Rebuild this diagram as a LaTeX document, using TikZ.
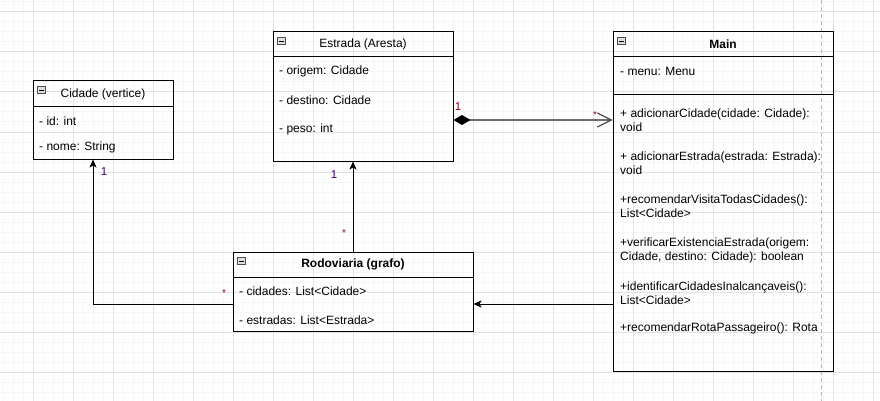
\documentclass[tikz,border=0pt]{standalone}
\usepackage{fontspec}
\setmainfont{Liberation Sans}
\usetikzlibrary{arrows.meta,positioning}
\definecolor{gridminor}{RGB}{246,246,246}
\definecolor{gridmajor}{RGB}{226,226,226}
\definecolor{multred}{RGB}{150,0,20}
\definecolor{multviolet}{RGB}{60,0,110}
\definecolor{compgray}{RGB}{110,110,110}

\begin{document}
\begin{tikzpicture}[x=1pt,y=-1pt,
    classbox/.style={draw,line width=1pt,inner sep=0pt},
    hdr/.style={draw,line width=1pt,inner sep=0pt,minimum height=26pt,font=\fontsize{12}{14}\selectfont},
    fld/.style={anchor=west,inner sep=0pt,align=left,font=\fontsize{12}{14}\selectfont},
    mult/.style={inner sep=0pt,font=\fontsize{11.5}{13}\selectfont},
    assoc/.style={line width=1pt,-{Stealth[length=8pt,width=7pt,inset=2pt]}},
    comp/.style={line width=1.2pt,draw=compgray,
      {Diamond[length=17pt,width=10pt,fill=black,color=black]}-{Straight Barb[length=14pt,width=14pt,line width=1.1pt,color=gray!50!black]}}]
  \useasboundingbox (0,0) rectangle (880,401);
  \fill[white] (0,0) rectangle (880,401);
  \foreach \x in {3,13,...,873}
    \draw[gridminor,line width=1pt] (\x,0) -- (\x,401);
  \foreach \y in {2,12,...,392}
    \draw[gridminor,line width=1pt] (0,\y) -- (880,\y);
  \foreach \x in {33,73,...,873}
    \draw[gridmajor,line width=1pt] (\x,0) -- (\x,401);
  \foreach \y in {12,52,...,372}
    \draw[gridmajor,line width=1pt] (0,\y) -- (880,\y);
  \draw[gray!55,line width=1pt,dash pattern=on 4pt off 3pt] (821,0) -- (821,401);

  \node[classbox,minimum width=140pt,minimum height=78pt] (cidade) at (103,120) {};
  \node[hdr,minimum width=140pt,anchor=north] (cidadet) at (cidade.north) {Cidade (vertice)};
  \node[fld] (cidadeid) at (39,121) {- id: int};
  \node[fld] (cidadenome) at (39,147) {- nome: String};

  \node[classbox,minimum width=180pt,minimum height=129pt] (estrada) at (363,96.5) {};
  \node[hdr,minimum width=180pt,minimum height=25pt,anchor=north] (estradat) at (estrada.north) {Estrada (Aresta)};
  \node[fld] (estradaorig) at (279,71) {- origem: Cidade};
  \node[fld] (estradadest) at (279,100) {- destino: Cidade};
  \node[fld] (estradapeso) at (279,129) {- peso: int};

  \node[classbox,minimum width=220pt,minimum height=339pt] (main) at (723,201.5) {};
  \node[hdr,minimum width=220pt,minimum height=25pt,anchor=north,font=\fontsize{12}{14}\selectfont\bfseries] (maint) at (main.north) {Main};
  \draw[line width=1pt] (main.west |- 0,95) -- (main.east |- 0,95);
  \node[fld] (mainmenu) at (620,71) {- menu: Menu};
  \node[fld] (mainm1) at (620,120) {+ adicionarCidade(cidade: Cidade):\\void};
  \node[fld] (mainm2) at (620,163) {+ adicionarEstrada(estrada: Estrada):\\void};
  \node[fld] (mainm3) at (620,206.5) {+recomendarVisitaTodasCidades():\\List<Cidade>};
  \node[fld] (mainm4) at (620,250) {+verificarExistenciaEstrada(origem:\\Cidade, destino: Cidade): boolean};
  \node[fld] (mainm5) at (620,293) {+identificarCidadesInalcançaveis():\\List<Cidade>};
  \node[fld] (mainm6) at (620,328) {+recomendarRotaPassageiro(): Rota};

  \node[classbox,minimum width=240pt,minimum height=79pt] (rodo) at (353,291.5) {};
  \node[hdr,minimum width=240pt,minimum height=25pt,anchor=north,font=\fontsize{12}{14}\selectfont\bfseries] (rodot) at (rodo.north) {Rodoviaria (grafo)};
  \node[fld] (rodocid) at (239,291) {- cidades: List<Cidade>};
  \node[fld] (rodoest) at (239,320) {- estradas: List<Estrada>};

  \foreach \c in {cidade,estrada,main,rodo}
  {
    \draw[draw=gray!60!black,fill=gray!25,line width=0.6pt] ([xshift=5pt,yshift=-6pt]\c.north west) rectangle ++(8,7);
    \draw[line width=0.8pt] ([xshift=6.5pt,yshift=-9.5pt]\c.north west) -- ++(5,0);
  }

  \coordinate (rodow) at ([yshift=-12.5pt]rodo.west);
  \coordinate (rodoe) at ([yshift=-12.5pt]rodo.east);
  \coordinate (estre) at ([yshift=-23.5pt]estrada.east);
  \draw[assoc] (rodow) -| ([xshift=-10pt]cidade.south);
  \draw[assoc] (rodo.north) -- (rodo.north |- estrada.south);
  \draw[assoc] (main.west |- rodoe) -- (rodoe);
  \draw[comp] (estre) -- (main.west |- estre);

  \node[mult,text=multred,font=\fontsize{10}{12}\selectfont] (m1) at (224,293) {*};
  \node[mult,text=multviolet] (m2) at (104,172) {1};
  \node[mult,text=multred,font=\fontsize{10}{12}\selectfont] (m3) at (344,233) {*};
  \node[mult,text=multviolet] (m4) at (334,175) {1};
  \node[mult,text=multred] (m5) at (458,107) {1};
  \node[mult,text=multred,font=\fontsize{10}{12}\selectfont] (m6) at (595,115) {*};
\end{tikzpicture}
\end{document}
